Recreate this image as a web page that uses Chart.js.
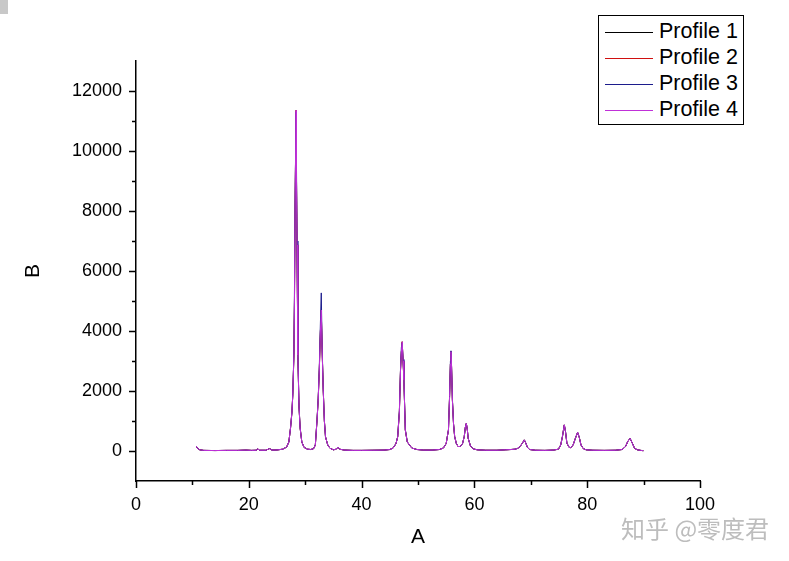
<!DOCTYPE html>
<html>
<head>
<meta charset="utf-8">
<script src="https://cdn.jsdelivr.net/npm/chart.js@4.4.1/dist/chart.umd.min.js"></script>
<style>
    body { margin: 0; background: #fff; }
    #wrap { position: relative; width: 789px; height: 561px; overflow: hidden; }
    #corner { position: absolute; left: 0; top: 0; width: 8px; height: 14px; background: #c8c8c8; }
    #legend {
        position: absolute; left: 598px; top: 15px; width: 144px;
        border: 1px solid #000; background: #fff; padding: 2px 0 2px 0;
        font-family: "Liberation Sans", Arial, sans-serif; font-size: 21.5px; color: #000;
    }
    .row { height: 26px; line-height: 26px; display: flex; align-items: center; }
    .swatch { width: 48px; height: 0; border-top: 1px solid; margin: 2px 6px 0 6px; }
    #mark {
        position: absolute; left: 621px; top: 514px;
        font-family: "Noto Sans CJK SC", sans-serif; font-size: 24px; line-height: 28px;
        color: #bdbdbd; white-space: nowrap;
    }
</style>
</head>
<body>
<div id="wrap">
    <canvas id="chart" width="789" height="561"></canvas>
    <div id="corner"></div>
    <div id="legend"></div>
    <div id="mark">知乎 @零度君</div>
</div>
<script>
// 2-theta positions (A)
const angles = [
    10.7, 10.9, 11.3, 12.0, 14.0, 16.0, 18.0, 19.5, 20.5, 21.3,
    21.6, 21.9, 23.0, 23.7, 24.1, 25.0, 26.0, 26.7, 27.1, 27.4,
    27.65, 27.8, 28.0, 28.1, 28.2, 28.37, 28.46, 28.55, 28.7, 28.9,
    29.1, 29.4, 29.8, 30.4, 31.0, 31.5, 31.8, 32.1, 32.3, 32.5,
    32.7, 32.85, 33.0, 33.2, 33.4, 33.6, 34.0, 34.4, 35.0, 35.5,
    35.8, 36.1, 37.0, 38.5, 40.0, 42.0, 44.0, 45.0, 45.6, 46.1,
    46.4, 46.7, 46.9, 47.05, 47.2, 47.35, 47.5, 47.75, 48.1, 48.9,
    49.8, 51.0, 52.5, 53.8, 54.5, 55.0, 55.2, 55.4, 55.6, 55.75,
    55.85, 55.95, 56.1, 56.3, 56.5, 56.8, 57.1, 57.5, 57.9, 58.2,
    58.4, 58.57, 58.75, 58.9, 59.3, 59.8, 60.5, 62.0, 64.0, 65.5,
    66.5, 67.2, 67.7, 68.1, 68.5, 68.85, 69.1, 69.4, 69.8, 70.8,
    72.5, 74.0, 74.9, 75.3, 75.6, 75.94, 76.15, 76.4, 76.8, 77.1,
    77.5, 77.9, 78.3, 78.6, 78.9, 79.3, 79.8, 81.0, 83.0, 85.0,
    86.2, 86.8, 87.2, 87.6, 88.0, 88.4, 88.9, 89.5, 89.95
];

// intensities (B)
const profile1 = [
    160, 90, 40, 20, 15, 20, 20, 30, 20, 25,
    70, 25, 25, 80, 30, 35, 60, 130, 300, 770,
    1300, 1870, 3200, 5000, 7970, 11350, 9000, 6870, 3200, 1500,
    770, 300, 120, 60, 50, 80, 200, 1030, 1700, 2700,
    4000, 4700, 3400, 2030, 1000, 470, 200, 90, 40, 60,
    130, 60, 30, 20, 20, 25, 30, 50, 100, 250,
    470, 1300, 2700, 3300, 3640, 3000, 2370, 700, 300, 100,
    50, 30, 30, 50, 100, 250, 480, 700, 1810, 2900,
    3310, 2800, 1700, 900, 480, 250, 150, 150, 250, 480,
    800, 920, 700, 420, 170, 70, 40, 25, 25, 40,
    50, 60, 90, 150, 260, 370, 270, 120, 50, 25,
    20, 30, 60, 200, 470, 870, 650, 260, 120, 110,
    200, 420, 620, 450, 200, 80, 40, 25, 20, 25,
    50, 150, 320, 420, 260, 90, 40, 20, 10
];
const profile2 = [
    160, 90, 40, 20, 15, 20, 20, 30, 20, 25,
    70, 25, 25, 80, 30, 35, 60, 130, 300, 770,
    1300, 1870, 3200, 5000, 7970, 11350, 9000, 6870, 3200, 1500,
    770, 300, 120, 60, 50, 80, 200, 1030, 1700, 2700,
    4000, 4700, 3400, 2030, 1000, 470, 200, 90, 40, 60,
    130, 60, 30, 20, 20, 25, 30, 50, 100, 250,
    470, 1300, 2700, 3300, 3640, 3000, 2370, 700, 300, 100,
    50, 30, 30, 50, 100, 250, 480, 700, 1810, 2900,
    3310, 2800, 1700, 900, 480, 250, 150, 150, 250, 480,
    800, 920, 700, 420, 170, 70, 40, 25, 25, 40,
    50, 60, 90, 150, 260, 370, 270, 120, 50, 25,
    20, 30, 60, 200, 470, 870, 650, 260, 120, 110,
    200, 420, 620, 450, 200, 80, 40, 25, 20, 25,
    50, 150, 320, 420, 260, 90, 40, 20, 10
];
const profile3 = [
    160, 90, 40, 20, 15, 20, 20, 30, 20, 25,
    70, 25, 25, 80, 30, 35, 60, 130, 300, 770,
    1300, 1900, 3300, 5400, 8200, 11300, 9400, 7000, 3300, 1500,
    780, 300, 120, 60, 50, 80, 210, 1050, 1750, 2800,
    4300, 5270, 3500, 2050, 1000, 470, 200, 90, 40, 60,
    130, 60, 30, 20, 20, 25, 30, 50, 100, 250,
    480, 1350, 2750, 3450, 3600, 3050, 2400, 720, 300, 100,
    50, 30, 30, 50, 100, 250, 480, 700, 1850, 3000,
    3340, 2850, 1750, 900, 480, 250, 150, 150, 250, 480,
    800, 920, 700, 420, 170, 70, 40, 25, 25, 40,
    50, 60, 90, 150, 260, 370, 270, 120, 50, 25,
    20, 30, 60, 200, 470, 870, 650, 260, 120, 110,
    200, 420, 620, 450, 200, 80, 40, 25, 20, 25,
    50, 150, 320, 420, 260, 90, 40, 20, 10
];
const profile4 = [
    160, 90, 40, 20, 15, 20, 20, 30, 20, 25,
    70, 25, 25, 80, 30, 35, 60, 130, 300, 770,
    1300, 1870, 3200, 5000, 7970, 11350, 9000, 6870, 3200, 1500,
    770, 300, 120, 60, 50, 80, 200, 1030, 1700, 2700,
    4000, 4700, 3400, 2030, 1000, 470, 200, 90, 40, 60,
    130, 60, 30, 20, 20, 25, 30, 50, 100, 250,
    470, 1300, 2700, 3300, 3640, 3000, 2370, 700, 300, 100,
    50, 30, 30, 50, 100, 250, 480, 700, 1810, 2900,
    3310, 2800, 1700, 900, 480, 250, 150, 150, 250, 480,
    800, 920, 700, 420, 170, 70, 40, 25, 25, 40,
    50, 60, 90, 150, 260, 370, 270, 120, 50, 25,
    20, 30, 60, 200, 470, 870, 650, 260, 120, 110,
    200, 420, 620, 450, 200, 80, 40, 25, 20, 25,
    50, 150, 320, 420, 260, 90, 40, 20, 10
];

const seriesNames = ['Profile 1', 'Profile 2', 'Profile 3', 'Profile 4'];
const seriesColors = ['#000000', '#d01010', '#1c1c8c', '#c030d8'];
const seriesValues = [profile1, profile2, profile3, profile4];

const xTicks = { min: 0, max: 100, step: 10, labelEvery: 20 };
const yTicks = { min: -1000, max: 13000, step: 1000, labelEvery: 2000 };

const font = '"Liberation Sans", Arial, sans-serif';

// major/minor tick marks, drawn outward like the original
const tickMarks = {
    id: 'tickMarks',
    afterDraw(chart) {
        const { ctx, scales: { x, y } } = chart;
        ctx.save();
        ctx.strokeStyle = '#000';
        ctx.lineWidth = 1.5;
        ctx.beginPath();
        x.ticks.forEach(t => {
            const px = Math.round(x.getPixelForValue(t.value)) + 0.5;
            const len = t.value % xTicks.labelEvery === 0 ? 7 : 4;
            ctx.moveTo(px, y.bottom);
            ctx.lineTo(px, y.bottom + len);
        });
        y.ticks.forEach(t => {
            if (t.value <= yTicks.min || t.value >= yTicks.max) return;
            const py = Math.round(y.getPixelForValue(t.value)) + 0.5;
            const len = t.value % yTicks.labelEvery === 0 ? 7 : 4;
            ctx.moveTo(x.left, py);
            ctx.lineTo(x.left - len, py);
        });
        ctx.stroke();
        ctx.restore();
    }
};

// last profile drawn on top, as in the original plot
const datasets = seriesNames.map((name, i) => ({
    label: name,
    data: angles.map((a, j) => ({ x: a, y: seriesValues[i][j] })),
    borderColor: seriesColors[i],
    borderWidth: 1,
    pointRadius: 0,
    tension: 0,
    fill: false,
    order: seriesNames.length - i
}));

const chart = new Chart(document.getElementById('chart'), {
    type: 'line',
    data: { datasets },
    options: {
        responsive: false,
        devicePixelRatio: 1,
        animation: false,
        layout: { padding: { top: 61, right: 89, left: 0, bottom: 0 } },
        plugins: { legend: { display: false }, tooltip: { enabled: false } },
        scales: {
            x: {
                type: 'linear',
                min: xTicks.min,
                max: xTicks.max,
                grid: { display: false },
                border: { display: true, color: '#000', width: 1.5 },
                ticks: {
                    stepSize: xTicks.step,
                    autoSkip: false,
                    maxRotation: 0,
                    padding: 5,
                    color: '#000',
                    font: { family: font, size: 18 },
                    callback: v => (v % xTicks.labelEvery === 0 ? String(v) : '')
                },
                title: {
                    display: true, text: 'A', color: '#000',
                    font: { family: font, size: 21 },
                    padding: { top: 0, bottom: 11 }
                },
                afterFit: s => { s.height = 80; }
            },
            y: {
                type: 'linear',
                min: yTicks.min,
                max: yTicks.max,
                grid: { display: false },
                border: { display: true, color: '#000', width: 1.5 },
                ticks: {
                    stepSize: yTicks.step,
                    autoSkip: false,
                    padding: 6,
                    color: '#000',
                    font: { family: font, size: 18 },
                    callback: v => (v >= 0 && v % yTicks.labelEvery === 0 ? String(v) : '')
                },
                title: {
                    display: true, text: 'B', color: '#000',
                    font: { family: font, size: 21 },
                    padding: { top: 21, bottom: 0 }
                },
                afterFit: s => { s.width = 136; }
            }
        }
    },
    plugins: [tickMarks]
});

// legend box built from the chart's datasets
const legend = document.getElementById('legend');
chart.data.datasets.forEach(ds => {
    const row = document.createElement('div');
    row.className = 'row';
    const sw = document.createElement('span');
    sw.className = 'swatch';
    sw.style.borderColor = ds.borderColor;
    const label = document.createElement('span');
    label.textContent = ds.label;
    row.appendChild(sw);
    row.appendChild(label);
    legend.appendChild(row);
});
</script>
</body>
</html>
